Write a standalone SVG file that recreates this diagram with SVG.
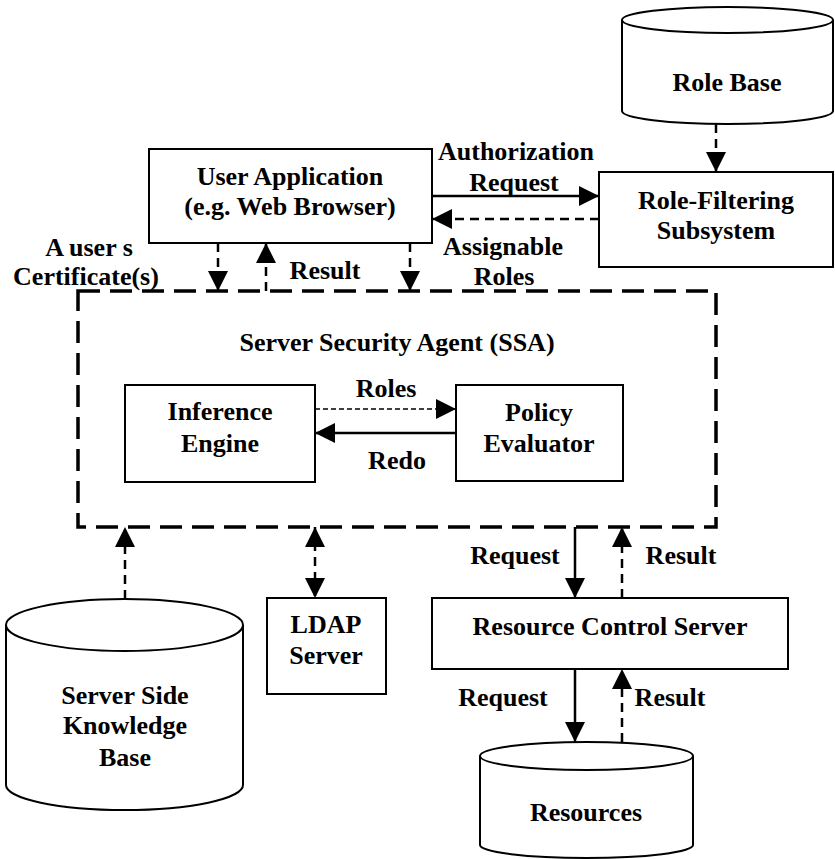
<svg xmlns="http://www.w3.org/2000/svg" width="835" height="859" viewBox="0 0 835 859">
  <style>
    text { font-family: "Liberation Serif", "Times New Roman", serif; font-weight: bold; font-size: 26px; fill: #000; text-anchor: middle; }
    .box { fill: #fff; stroke: #000; stroke-width: 2; }
    .cyl { fill: #fff; stroke: #000; stroke-width: 2; }
    .solid { stroke: #000; stroke-width: 2.5; fill: none; }
    .dash { stroke: #000; stroke-width: 2.5; fill: none; stroke-dasharray: 9 6; }
    .thin { stroke: #000; stroke-width: 1.5; fill: none; stroke-dasharray: 5 3; }
    .ssa { fill: none; stroke: #000; stroke-width: 3.5; stroke-dasharray: 22 10; }
  </style>
  <defs>
    <marker id="ah" markerUnits="userSpaceOnUse" markerWidth="20" markerHeight="20" refX="20" refY="10" orient="auto">
      <path d="M0,0 L20,10 L0,20 Z" fill="#000"/>
    </marker>
    <marker id="ahs" markerUnits="userSpaceOnUse" markerWidth="20" markerHeight="20" refX="0" refY="10" orient="auto">
      <path d="M20,0 L0,10 L20,20 Z" fill="#000"/>
    </marker>
  </defs>

  <!-- Role Base cylinder -->
  <g id="role-base">
    <path class="cyl" d="M622,20 L622,111 A105.5,13 0 0 0 833,111 L833,20"/>
    <ellipse class="cyl" cx="727.5" cy="20" rx="105.5" ry="13"/>
    <text x="727" y="91">Role Base</text>
  </g>

  <!-- Role-Filtering Subsystem -->
  <g id="role-filtering">
    <rect class="box" x="599" y="172" width="234" height="95"/>
    <text x="716" y="209">Role-Filtering</text>
    <text x="716" y="239">Subsystem</text>
  </g>

  <!-- User Application -->
  <g id="user-app">
    <rect class="box" x="149" y="149" width="283" height="94"/>
    <text x="290" y="185">User Application</text>
    <text x="290" y="215">(e.g. Web Browser)</text>
  </g>

  <!-- Server Security Agent (dashed container) -->
  <g id="ssa">
    <rect class="ssa" x="78" y="291" width="638" height="236"/>
    <text x="397" y="351">Server Security Agent (SSA)</text>
  </g>

  <g id="inference-engine">
    <rect class="box" x="125" y="385" width="190" height="97"/>
    <text x="220" y="420">Inference</text>
    <text x="220" y="452">Engine</text>
  </g>

  <g id="policy-evaluator">
    <rect class="box" x="456" y="385" width="167" height="96"/>
    <text x="539" y="421">Policy</text>
    <text x="539" y="452">Evaluator</text>
  </g>

  <!-- Server Side Knowledge Base cylinder -->
  <g id="knowledge-base">
    <path class="cyl" d="M6,625 L6,785 A118.5,25 0 0 0 243,785 L243,625"/>
    <ellipse class="cyl" cx="124.5" cy="625" rx="118.5" ry="26"/>
    <text x="125" y="704">Server Side</text>
    <text x="125" y="734">Knowledge</text>
    <text x="125" y="766">Base</text>
  </g>

  <g id="ldap-server">
    <rect class="box" x="267" y="598" width="119" height="96"/>
    <text x="326" y="633">LDAP</text>
    <text x="326" y="664">Server</text>
  </g>

  <g id="resource-control-server">
    <rect class="box" x="432" y="598" width="356" height="71"/>
    <text x="610" y="635">Resource Control Server</text>
  </g>

  <!-- Resources cylinder -->
  <g id="resources">
    <path class="cyl" d="M480,756 L480,845 A106.5,13 0 0 0 693,845 L693,756"/>
    <ellipse class="cyl" cx="586.5" cy="756" rx="106.5" ry="14"/>
    <text x="586" y="821">Resources</text>
  </g>

  <!-- Connectors -->
  <g id="connectors">
    <line class="dash" x1="716" y1="124" x2="716" y2="172" marker-end="url(#ah)"/>
    <line class="solid" x1="432" y1="196" x2="599" y2="196" marker-end="url(#ah)"/>
    <line class="dash" x1="599" y1="219" x2="432" y2="219" marker-end="url(#ah)"/>
    <line class="dash" x1="218" y1="243" x2="218" y2="291" marker-end="url(#ah)"/>
    <line class="dash" x1="266" y1="291" x2="266" y2="243" marker-end="url(#ah)"/>
    <line class="dash" x1="410" y1="243" x2="410" y2="291" marker-end="url(#ah)"/>
    <line class="thin" x1="315" y1="409" x2="456" y2="409" marker-end="url(#ah)"/>
    <line class="solid" x1="456" y1="433" x2="315" y2="433" marker-end="url(#ah)"/>
    <line class="dash" x1="125" y1="599" x2="125" y2="527" marker-end="url(#ah)"/>
    <line class="dash" x1="315" y1="527" x2="315" y2="598" marker-start="url(#ahs)" marker-end="url(#ah)"/>
    <line class="solid" x1="575" y1="527" x2="575" y2="598" marker-end="url(#ah)"/>
    <line class="dash" x1="622" y1="598" x2="622" y2="527" marker-end="url(#ah)"/>
    <line class="solid" x1="575" y1="669" x2="575" y2="742" marker-end="url(#ah)"/>
    <line class="dash" x1="622" y1="742" x2="622" y2="669" marker-end="url(#ah)"/>
  </g>

  <!-- Connector labels -->
  <g id="labels">
    <text x="516" y="160">Authorization</text>
    <text x="514" y="191">Request</text>
    <text x="503" y="255">Assignable</text>
    <text x="504" y="285">Roles</text>
    <text x="89" y="256">A user s</text>
    <text x="86" y="285">Certificate(s)</text>
    <text x="325" y="279">Result</text>
    <text x="386" y="397">Roles</text>
    <text x="397" y="469">Redo</text>
    <text x="515" y="564">Request</text>
    <text x="681" y="564">Result</text>
    <text x="503" y="706">Request</text>
    <text x="670" y="706">Result</text>
  </g>
</svg>
